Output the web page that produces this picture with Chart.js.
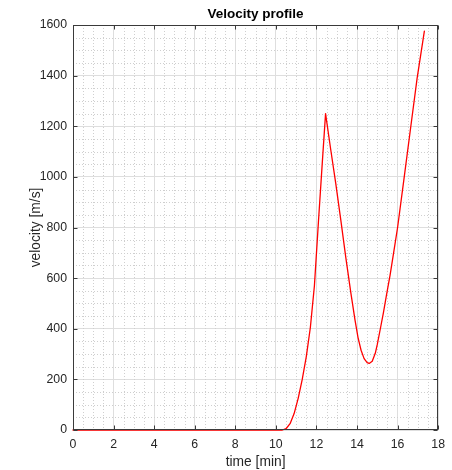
<!DOCTYPE html>
<html>
<head>
<meta charset="utf-8">
<script src="https://cdn.jsdelivr.net/npm/chart.js@4"></script>
<style>
  html, body { margin: 0; padding: 0; background: #fff; }
  #wrap { width: 452px; height: 470px; }
</style>
</head>
<body>
<div id="wrap"><canvas id="myChart"></canvas></div>
<script>
// values
const time = [0, 10.32, 10.5, 10.7, 10.9, 11.1, 11.3, 11.5, 11.7, 11.9, 12.1, 12.3, 12.45,
  12.7, 12.95, 13.2, 13.45, 13.7, 13.9, 14.05, 14.2, 14.35, 14.5, 14.6, 14.75, 14.9, 15.0,
  15.15, 15.3, 15.45, 15.63, 15.8, 16.0, 16.32, 16.64, 16.96, 17.32];
const velocity = [0, 0, 5, 25, 65, 125, 200, 290, 405, 570, 825, 1070, 1250,
  1110, 975, 830, 680, 540, 435, 365, 315, 282, 266, 263, 272, 303, 338,
  400, 463, 532, 612, 698, 800, 995, 1192, 1388, 1576];

const xTicks = [0, 2, 4, 6, 8, 10, 12, 14, 16, 18];
const yTicks = [0, 200, 400, 600, 800, 1000, 1200, 1400, 1600];
const chartTitle = 'Velocity profile';

const FONT = '"Liberation Sans", Arial, Helvetica, sans-serif';
const INK = '#262626';

// dotted minor grid, axes box, inward ticks and title centred on the axes (MATLAB look)
const matlabAxes = {
  id: 'matlabAxes',
  beforeDatasetsDraw(chart) {
    const {ctx, chartArea: a, scales: {x, y}} = chart;
    ctx.save();
    ctx.strokeStyle = '#cfcfcf';
    ctx.lineWidth = 1;
    ctx.setLineDash([1, 2]);
    for (let v = 0.5; v < 18; v += 0.5) {
      if (v % 2 === 0) continue;
      const px = Math.round(x.getPixelForValue(v)) + 0.5;
      ctx.beginPath(); ctx.moveTo(px, a.top); ctx.lineTo(px, a.bottom); ctx.stroke();
    }
    for (let v = 50; v < 1600; v += 50) {
      if (v % 200 === 0) continue;
      const py = Math.round(y.getPixelForValue(v)) + 0.5;
      ctx.beginPath(); ctx.moveTo(a.left, py); ctx.lineTo(a.right, py); ctx.stroke();
    }
    ctx.restore();
  },
  afterDraw(chart) {
    const {ctx, chartArea: a, scales: {x, y}} = chart;
    ctx.save();
    ctx.strokeStyle = '#3a3a3a';
    ctx.lineWidth = 1;
    const L = Math.round(a.left) + 0.5, R = Math.round(a.right) - 0.5;
    const T = Math.round(a.top) + 0.5, B = Math.round(a.bottom) - 0.5;
    ctx.strokeRect(L, T, R - L, B - T);
    const tl = 4;
    ctx.beginPath();
    xTicks.forEach(v => {
      const px = Math.round(x.getPixelForValue(v)) + 0.5;
      ctx.moveTo(px, B); ctx.lineTo(px, B - tl);
      ctx.moveTo(px, T); ctx.lineTo(px, T + tl);
    });
    yTicks.forEach(v => {
      const py = Math.round(y.getPixelForValue(v)) + 0.5;
      ctx.moveTo(L, py); ctx.lineTo(L + tl, py);
      ctx.moveTo(R, py); ctx.lineTo(R - tl, py);
    });
    ctx.stroke();

    ctx.fillStyle = '#000';
    ctx.font = 'bold 13.5px ' + FONT;
    ctx.textAlign = 'center';
    ctx.textBaseline = 'alphabetic';
    ctx.fillText(chartTitle, (a.left + a.right) / 2, 18);
    ctx.restore();
  }
};

const data = {
  datasets: [{
    label: 'velocity',
    data: time.map((t, i) => ({x: t, y: velocity[i]})),
    borderColor: '#ff0000',
    backgroundColor: '#ff0000',
    borderWidth: 1.3,
    borderJoinStyle: 'round',
    borderCapStyle: 'round',
    pointRadius: 0,
    tension: 0,
    clip: 3
  }]
};

const config = {
  type: 'line',
  data: data,
  options: {
    responsive: true,
    maintainAspectRatio: false,
    animation: false,
    layout: { padding: { left: 0, right: 7, top: 25, bottom: 0 } },
    plugins: {
      legend: { display: false },
      tooltip: { enabled: false },
      title: { display: false }
    },
    scales: {
      x: {
        type: 'linear',
        min: 0, max: 18,
        afterFit: s => { s.height = 40; },
        afterBuildTicks: s => { s.ticks = xTicks.map(v => ({value: v})); },
        ticks: { color: INK, padding: 7, font: { family: FONT, size: 12.3 },
          callback: v => String(v) },
        grid: { color: '#dedede', drawTicks: false },
        border: { display: false },
        title: {
          display: true, text: 'time [min]', color: INK,
          font: { family: FONT, size: 13.8 }, padding: { top: 0, bottom: 0 }
        }
      },
      y: {
        type: 'linear',
        min: 0, max: 1600,
        afterFit: s => { s.width = 73; },
        afterBuildTicks: s => { s.ticks = yTicks.map(v => ({value: v})); },
        ticks: { color: INK, padding: 6, font: { family: FONT, size: 12.3 },
          callback: v => String(v) },
        grid: { color: '#dedede', drawTicks: false },
        border: { display: false },
        title: {
          display: true, text: 'velocity [m/s]', color: INK,
          font: { family: FONT, size: 13.8 }, padding: { top: 28, bottom: 0 }
        }
      }
    }
  },
  plugins: [matlabAxes]
};

const myChart = new Chart(document.getElementById('myChart'), config);
</script>
</body>
</html>
